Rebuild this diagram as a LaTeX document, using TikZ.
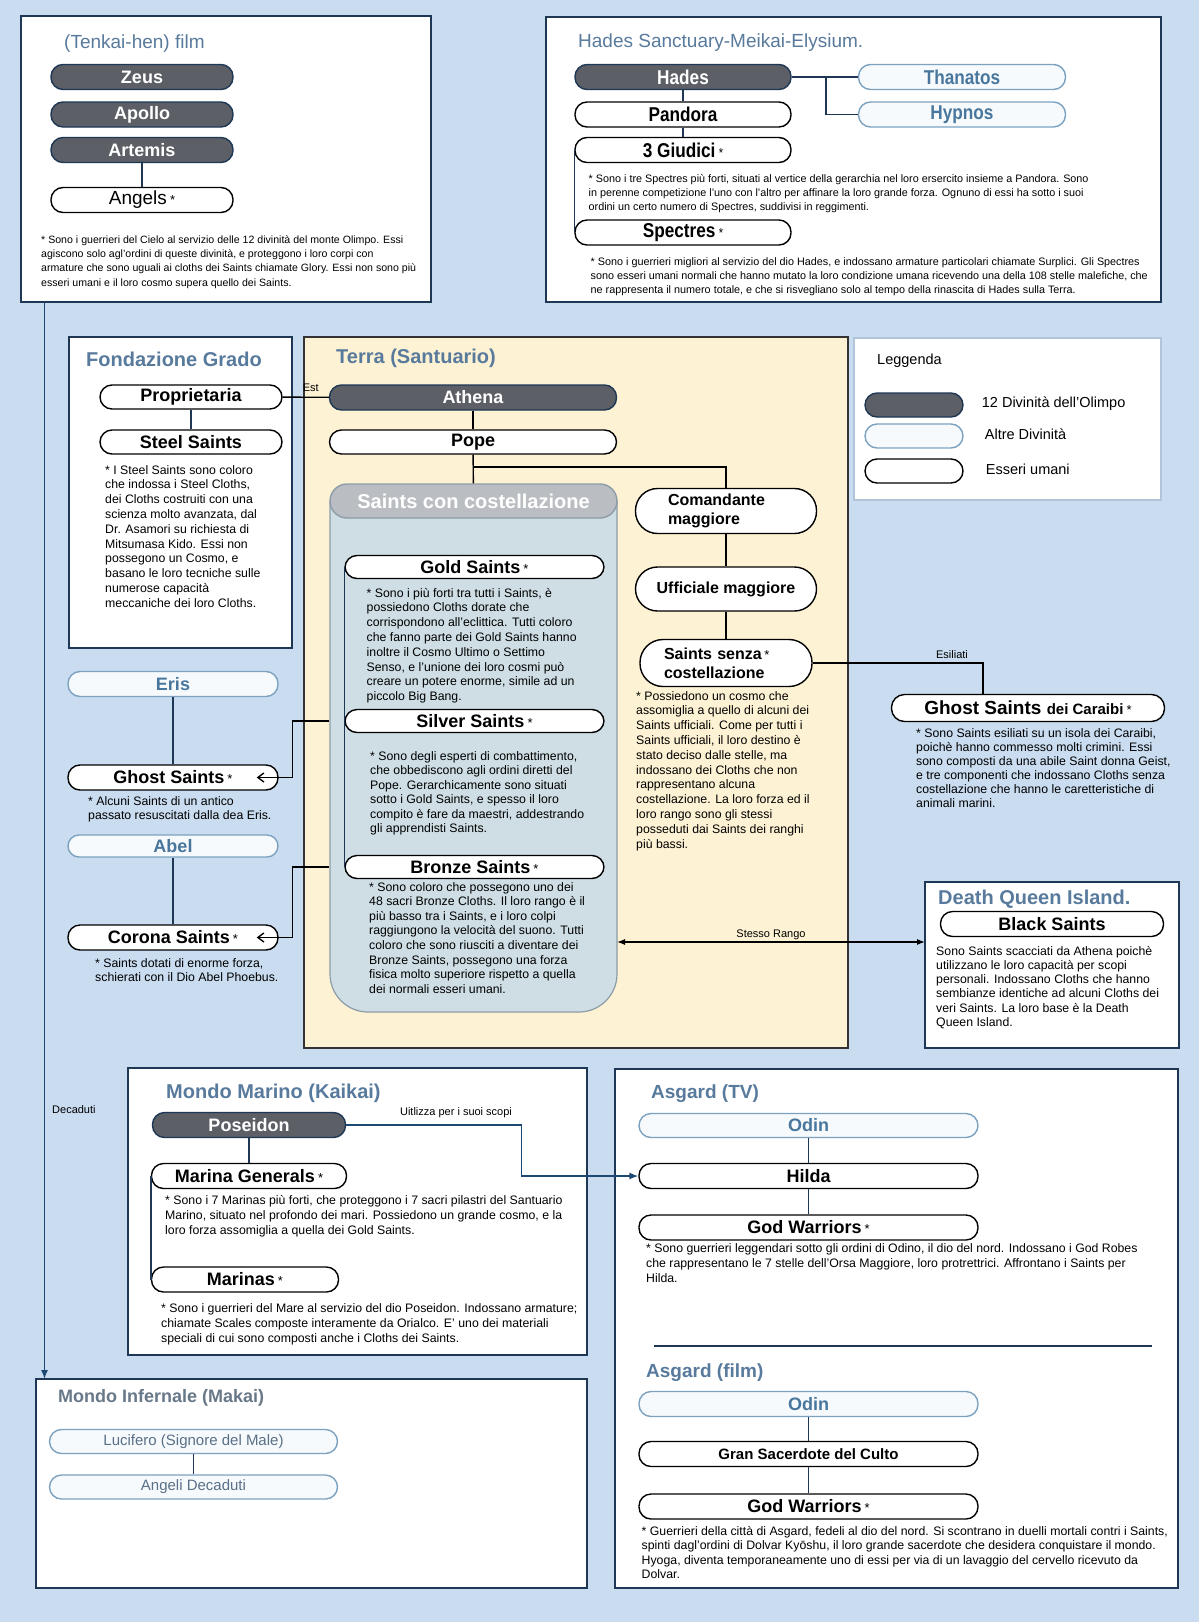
\documentclass[tikz,border=0pt]{standalone}
\usepackage{fontspec}
\setmainfont{Liberation Sans}
\newfontfamily\narrowfont{Liberation Sans}[FakeStretch=0.86]
\usetikzlibrary{arrows.meta,positioning,calc}

\definecolor{sfondo}{RGB}{201,220,240}
\definecolor{bordo}{RGB}{29,55,84}
\definecolor{titolo}{RGB}{88,122,156}
\definecolor{grigiotitolo}{RGB}{104,120,136}
\definecolor{divino}{RGB}{92,96,102}
\definecolor{chiaro}{RGB}{124,162,192}
\definecolor{azzurrino}{RGB}{246,250,253}
\definecolor{testochiaro}{RGB}{72,118,156}
\definecolor{grigiotesto}{RGB}{90,112,134}
\definecolor{crema}{RGB}{254,242,212}
\definecolor{cilindro}{RGB}{206,222,228}
\definecolor{cilbordo}{RGB}{140,156,168}
\definecolor{grigio}{RGB}{186,190,194}
\definecolor{freccia}{RGB}{30,72,116}
\definecolor{legbordo}{RGB}{176,196,218}

\newcommand{\stella}{\,{\fontsize{13}{13}\selectfont\mdseries *}}
\newcommand{\righe}[1]{\begin{tabular}[t]{@{}l@{}}#1\end{tabular}}

\tikzset{
  riquadro/.style={draw=bordo, line width=1.8pt, fill=white},
  pill/.style={rectangle, rounded corners=12pt, line width=1.4pt, inner sep=0pt,
    minimum height=25pt, align=center, font=\fontsize{18}{20}\selectfont\bfseries},
  olimpo/.style={pill, draw=bordo, fill=divino, text=white},
  divinita/.style={pill, draw=chiaro, fill=azzurrino, text=testochiaro},
  umano/.style={pill, draw=black, fill=white},
  stretto/.style={font=\narrowfont\fontsize{20}{20}\selectfont\bfseries},
  titolo/.style={anchor=base west, inner sep=0pt, text=titolo,
    font=\fontsize{20}{20}\selectfont\bfseries},
  nota/.style={anchor=base west, inner sep=0pt, font=\fontsize{12.3}{14.8}\selectfont},
  etichetta/.style={inner sep=1pt, font=\fontsize{11}{11}\selectfont},
  legame/.style={draw=bordo, line width=1.4pt},
  linea/.style={draw=black, line width=1.4pt},
}

\begin{document}
\begin{tikzpicture}[x=1pt, y=-1pt]
\fill[sfondo] (0,0) rectangle (1199,1622);

% (Tenkai-hen) film
\draw[riquadro] (21,16) rectangle (431,302);
\node[titolo, font=\fontsize{19}{19}\selectfont] (tenkai) at (64,48) {(Tenkai-hen) film};
\node[olimpo, minimum width=182pt] (zeus) at (142,77) {Zeus};
\node[olimpo, minimum width=182pt] (apollo) at (142,114.5) {Apollo};
\node[olimpo, minimum width=182pt] (artemis) at (142,150) {Artemis};
\node[umano, minimum width=182pt, font=\fontsize{19}{20}\selectfont] (angels) at (142,200) {Angels\stella};
\draw[legame] (artemis) -- (angels);
\node[nota, font=\fontsize{10.6}{14.4}\selectfont] at (41,243) {\righe{%
* Sono i guerrieri del Cielo al servizio delle 12 divinità del monte Olimpo. Essi\\
agiscono solo agl'ordini di queste divinità, e proteggono i loro corpi con\\
armature che sono uguali ai cloths dei Saints chiamate Glory. Essi non sono più\\
esseri umani e il loro cosmo supera quello dei Saints.}};

% Hades
\draw[riquadro] (546,17) rectangle (1161,302);
\node[titolo, font=\fontsize{19}{19}\selectfont] at (578,47) {Hades Sanctuary-Meikai-Elysium.};
\node[olimpo, stretto, minimum width=216pt] (hades) at (683,77) {Hades};
\node[umano, stretto, minimum width=216pt] (pandora) at (683,114.5) {Pandora};
\node[umano, stretto, minimum width=216pt] (giudici) at (683,150) {3 Giudici\stella};
\node[umano, stretto, minimum width=216pt] (spectres) at (683,232.5) {Spectres\stella};
\node[divinita, stretto, minimum width=207pt] (thanatos) at (962,77) {Thanatos};
\node[divinita, stretto, minimum width=207pt] (hypnos) at (962,114.5) {Hypnos};
\coordinate (bivioade) at (826,77);
\draw[legame] (hades) -- (pandora);
\draw[legame] (pandora) -- (giudici);
\draw[legame] (hades) -- (thanatos);
\draw[legame] (bivioade) |- (hypnos);
\draw[legame] (giudici.west) -- (spectres.west);
\node[nota, font=\fontsize{10.8}{14.3}\selectfont] at (588.5,182) {\righe{%
* Sono i tre Spectres più forti, situati al vertice della gerarchia nel loro ersercito insieme a Pandora. Sono\\
in perenne competizione l'uno con l'altro per affinare la loro grande forza. Ognuno di essi ha sotto i suoi\\
ordini un certo numero di Spectres, suddivisi in reggimenti.}};
\node[nota, font=\fontsize{10.8}{14.2}\selectfont] at (590.5,265) {\righe{%
* Sono i guerrieri migliori al servizio del dio Hades, e indossano armature particolari chiamate Surplici. Gli Spectres\\
sono esseri umani normali che hanno mutato la loro condizione umana ricevendo una della 108 stelle malefiche, che\\
ne rappresenta il numero totale, e che si risvegliano solo al tempo della rinascita di Hades sulla Terra.}};

% Fondazione Grado
\draw[riquadro] (69,337) rectangle (292,648);
\node[titolo] at (86,366) {Fondazione Grado};
\node[umano, minimum width=182pt, minimum height=24pt] (proprietaria) at (191,397) {Proprietaria};
\node[umano, minimum width=182pt, minimum height=24pt] (steel) at (191,442) {Steel Saints};
\draw[legame] (proprietaria) -- (steel);
\node[nota] at (105,474) {\righe{%
* I Steel Saints sono coloro\\
che indossa i Steel Cloths,\\
dei Cloths costruiti con una\\
scienza molto avanzata, dal\\
Dr. Asamori su richiesta di\\
Mitsumasa Kido. Essi non\\
possegono un Cosmo, e\\
basano le loro tecniche sulle\\
numerose capacità\\
meccaniche dei loro Cloths.}};

% Terra (Santuario)
\draw[fill=crema, draw=black!80, line width=1.4pt] (304,337) rectangle (848,1048);
\node[titolo] at (336,363) {Terra (Santuario)};
\node[olimpo, minimum width=287pt] (athena) at (473,397.5) {Athena};
\node[umano, minimum width=287pt, minimum height=24pt] (pope) at (473,442) {Pope};
\draw[linea] (athena) -- (pope);
\draw[linea] (proprietaria) -- (athena) node[etichetta, pos=0.61, above=4pt] {Est};

\draw[fill=cilindro, draw=cilbordo, line width=1.2pt, rounded corners=38pt]
  (330,501) -- (330,1012) -- (617,1012) -- (617,501);
\node[pill, minimum width=287pt, minimum height=34pt, rounded corners=17pt, fill=grigio,
  draw=cilbordo, text=white, font=\fontsize{20}{20}\selectfont\bfseries]
  (costellazione) at (473.5,501) {Saints con costellazione};
\node[umano, minimum width=259pt, minimum height=23pt] (gold) at (474.5,567) {Gold Saints\stella};
\node[umano, minimum width=259pt, minimum height=23pt] (silver) at (474.5,721) {Silver Saints\stella};
\node[umano, minimum width=259pt, minimum height=23pt] (bronze) at (474.5,867) {Bronze Saints\stella};
\draw[legame] (gold.west) -- (bronze.west);

\node[umano, minimum width=181pt, minimum height=45pt, rounded corners=22pt, align=left,
  text width=116pt, font=\fontsize{16}{19}\selectfont\bfseries] (comandante) at (726,511) {Comandante\\maggiore};
\node[umano, minimum width=181pt, minimum height=44pt, rounded corners=22pt,
  font=\fontsize{16}{19}\selectfont\bfseries] (ufficiale) at (726,589) {Ufficiale maggiore};
\node[umano, minimum width=172pt, minimum height=47pt, rounded corners=23pt, align=left,
  text width=124pt, font=\fontsize{16}{19}\selectfont\bfseries] (senza) at (726,663) {Saints senza\stella\\costellazione};
\coordinate (biviopope) at (473,467);
\draw[linea] (pope) -- (costellazione);
\draw[linea] (biviopope) -| (comandante);
\draw[linea] (comandante) -- (ufficiale);
\draw[linea] (ufficiale) -- (senza);

\node[nota] at (366.5,597) {\righe{%
* Sono i più forti tra tutti i Saints, è\\
possiedono Cloths dorate che\\
corrispondono all'eclittica. Tutti coloro\\
che fanno parte dei Gold Saints hanno\\
inoltre il Cosmo Ultimo o Settimo\\
Senso, e l'unione dei loro cosmi può\\
creare un potere enorme, simile ad un\\
piccolo Big Bang.}};
\node[nota, font=\fontsize{12.3}{14.5}\selectfont] at (370,760) {\righe{%
* Sono degli esperti di combattimento,\\
che obbediscono agli ordini diretti del\\
Pope. Gerarchicamente sono situati\\
sotto i Gold Saints, e spesso il loro\\
compito è fare da maestri, addestrando\\
gli apprendisti Saints.}};
\node[nota, font=\fontsize{12.3}{14.6}\selectfont] at (369,891) {\righe{%
* Sono coloro che possegono uno dei\\
48 sacri Bronze Cloths. Il loro rango è il\\
più basso tra i Saints, e i loro colpi\\
raggiungono la velocità del suono. Tutti\\
coloro che sono riusciti a diventare dei\\
Bronze Saints, possegono una forza\\
fisica molto superiore rispetto a quella\\
dei normali esseri umani.}};
\node[nota] at (636,700) {\righe{%
* Possiedono un cosmo che\\
assomiglia a quello di alcuni dei\\
Saints ufficiali. Come per tutti i\\
Saints ufficiali, il loro destino è\\
stato deciso dalle stelle, ma\\
indossano dei Cloths che non\\
rappresentano alcuna\\
costellazione. La loro forza ed il\\
loro rango sono gli stessi\\
posseduti dai Saints dei ranghi\\
più bassi.}};

% Ghost Saints dei Caraibi
\node[umano, minimum width=273pt, minimum height=27pt, rounded corners=13pt,
  font=\fontsize{19}{20}\selectfont\bfseries] (caraibi) at (1028,708)
  {Ghost Saints {\fontsize{15}{15}\selectfont dei Caraibi}\stella};
\coordinate (esilio) at (983,694.5);
\draw[linea] (senza.east) -| (esilio);
\node[etichetta] at (952,655) {Esiliati};
\node[nota, font=\fontsize{12.3}{14}\selectfont] at (916,737) {\righe{%
* Sono Saints esiliati su un isola dei Caraibi,\\
poichè hanno commesso molti crimini. Essi\\
sono composti da una abile Saint donna Geist,\\
e tre componenti che indossano Cloths senza\\
costellazione che hanno le caretteristiche di\\
animali marini.}};

% Eris e Abel
\node[divinita, minimum width=210pt] (eris) at (173,684) {Eris};
\node[umano, minimum width=210pt] (ghost) at (173,777.5) {Ghost Saints\stella};
\node[divinita, minimum width=210pt, minimum height=22pt, rounded corners=11pt] (abel) at (173,846) {Abel};
\node[umano, minimum width=210pt] (corona) at (173,937.5) {Corona Saints\stella};
\draw[legame] (eris) -- (ghost);
\draw[legame] (abel) -- (corona);
\coordinate (dasilver) at (costellazione.west |- silver);
\coordinate (dabronze) at (costellazione.west |- bronze);
\draw[linea, -{Straight Barb[length=6pt,width=9pt]}, shorten >=-22pt] (dasilver) -- ++(-37,0) |- (ghost.east);
\draw[linea, -{Straight Barb[length=6pt,width=9pt]}, shorten >=-22pt] (dabronze) -- ++(-37,0) |- (corona.east);
\node[nota] at (88,805) {\righe{%
* Alcuni Saints di un antico\\
passato resuscitati dalla dea Eris.}};
\node[nota] at (95,967) {\righe{%
* Saints dotati di enorme forza,\\
schierati con il Dio Abel Phoebus.}};

% Death Queen Island
\draw[riquadro] (925,882) rectangle (1179,1048);
\node[titolo] at (938,904) {Death Queen Island.};
\node[umano, minimum width=223pt] (black) at (1052,924) {Black Saints};
\node[nota, font=\fontsize{12.3}{14.3}\selectfont] at (936,955) {\righe{%
Sono Saints scacciati da Athena poichè\\
utilizzano le loro capacità per scopi\\
personali. Indossano Cloths che hanno\\
sembianze identiche ad alcuni Cloths dei\\
veri Saints. La loro base è la Death\\
Queen Island.}};
\coordinate (rangoA) at (617,942);
\coordinate (rangoB) at (925,942);
\draw[linea, line width=1.2pt, {Latex[length=8pt,width=6pt]}-{Latex[length=8pt,width=6pt]}] (rangoA) -- (rangoB)
  node[etichetta, midway, above=1pt] {Stesso Rango};

% Leggenda
\draw[draw=legbordo, line width=1.4pt, fill=white] (854,338) rectangle (1161,500);
\node[anchor=base west, inner sep=0pt, font=\fontsize{14.5}{15}\selectfont] at (877,364) {Leggenda};
\node[olimpo, minimum width=98pt, minimum height=24pt] (legolimpo) at (914,405) {};
\node[divinita, minimum width=98pt, minimum height=24pt] (legdivinita) at (914,436) {};
\node[umano, minimum width=98pt, minimum height=24pt] (legumano) at (914,471) {};
\node[right=18pt of legolimpo, inner sep=0pt, yshift=1pt, font=\fontsize{14.5}{15}\selectfont] {12 Divinità dell'Olimpo};
\node[right=21pt of legdivinita, inner sep=0pt, yshift=2pt, font=\fontsize{14.5}{15}\selectfont] {Altre Divinità};
\node[right=22pt of legumano, inner sep=0pt, yshift=2pt, font=\fontsize{14.5}{15}\selectfont] {Esseri umani};

% Mondo Marino
\draw[riquadro] (128,1068) rectangle (587,1355);
\node[titolo] at (166,1098) {Mondo Marino (Kaikai)};
\node[olimpo, minimum width=193pt] (poseidon) at (249,1125) {Poseidon};
\node[umano, minimum width=195pt] (generals) at (249,1176) {Marina Generals\stella};
\node[umano, minimum width=187pt] (marinas) at (245,1279.5) {Marinas\stella};
\draw[legame] (poseidon) -- (generals);
\draw[legame] (generals.west) -- (marinas.west);
\node[nota, font=\fontsize{12.3}{15}\selectfont] at (165,1204.3) {\righe{%
* Sono i 7 Marinas più forti, che proteggono i 7 sacri pilastri del Santuario\\
Marino, situato nel profondo dei mari. Possiedono un grande cosmo, e la\\
loro forza assomiglia a quella dei Gold Saints.}};
\node[nota, font=\fontsize{12.3}{15}\selectfont] at (161,1312.3) {\righe{%
* Sono i guerrieri del Mare al servizio del dio Poseidon. Indossano armature;\\
chiamate Scales composte interamente da Orialco. E' uno dei materiali\\
speciali di cui sono composti anche i Cloths dei Saints.}};

% Asgard
\draw[riquadro] (615,1069) rectangle (1178,1588);
\node[titolo, font=\fontsize{19}{19}\selectfont\bfseries] at (651,1098) {Asgard (TV)};
\node[divinita, minimum width=339pt, minimum height=24pt] (odin) at (808.5,1125.5) {Odin};
\node[umano, minimum width=339pt] (hilda) at (808.5,1176) {Hilda};
\node[umano, minimum width=339pt] (godwarriors) at (808.5,1227.5) {God Warriors\stella};
\draw[legame] (odin) -- (hilda);
\draw[legame] (hilda) -- (godwarriors);
\node[nota, font=\fontsize{12.3}{15}\selectfont] at (646,1252) {\righe{%
* Sono guerrieri leggendari sotto gli ordini di Odino, il dio del nord. Indossano i God Robes\\
che rappresentano le 7 stelle dell'Orsa Maggiore, loro protrettrici. Affrontano i Saints per\\
Hilda.}};
\draw[legame, line width=1.6pt] (654,1346) -- (1152,1346);
\node[titolo, font=\fontsize{19}{19}\selectfont\bfseries] at (646,1377) {Asgard (film)};
\node[divinita, minimum width=339pt] (odinfilm) at (808.5,1404) {Odin};
\node[umano, minimum width=339pt, font=\fontsize{15}{16}\selectfont\bfseries] (sacerdote) at (808.5,1454) {Gran Sacerdote del Culto};
\node[umano, minimum width=339pt] (godfilm) at (808.5,1506.5) {God Warriors\stella};
\draw[legame] (odinfilm) -- (sacerdote);
\draw[legame] (sacerdote) -- (godfilm);
\node[nota, font=\fontsize{12.3}{14.5}\selectfont] at (641.5,1535) {\righe{%
* Guerrieri della città di Asgard, fedeli al dio del nord. Si scontrano in duelli mortali contri i Saints,\\
spinti dagl'ordini di Dolvar Kyōshu, il loro grande sacerdote che desidera conquistare il mondo.\\
Hyoga, diventa temporaneamente uno di essi per via di un lavaggio del cervello ricevuto da\\
Dolvar.}};

% Poseidon usa Hilda
\draw[legame, draw=freccia, -{Latex[length=9pt,width=7pt]}] (poseidon.east) -- ++(175,0) |- (hilda.west);
\node[etichetta] at (456,1113) {Uitlizza per i suoi scopi};

% Mondo Infernale
\draw[riquadro] (36,1379) rectangle (587,1588);
\node[titolo, text=grigiotitolo, font=\fontsize{18}{18}\selectfont\bfseries] at (58,1402) {Mondo Infernale (Makai)};
\node[divinita, minimum width=288pt, minimum height=24pt, text=grigiotesto,
  font=\fontsize{15}{16}\selectfont] (lucifero) at (193.5,1441.5) {Lucifero (Signore del Male)};
\node[divinita, minimum width=288pt, minimum height=24pt, text=grigiotesto,
  font=\fontsize{15}{16}\selectfont] (angelidecaduti) at (193.5,1487) {Angeli Decaduti};
\draw[legame] (lucifero) -- (angelidecaduti);

% Decaduti
\coordinate (caduta) at (44.5,302);
\coordinate (makai) at (44.5,1379);
\draw[legame, draw=freccia, -{Latex[length=9pt,width=7pt]}] (caduta) -- (makai);
\node[etichetta, anchor=west] at (51,1110) {Decaduti};
\end{tikzpicture}
\end{document}
